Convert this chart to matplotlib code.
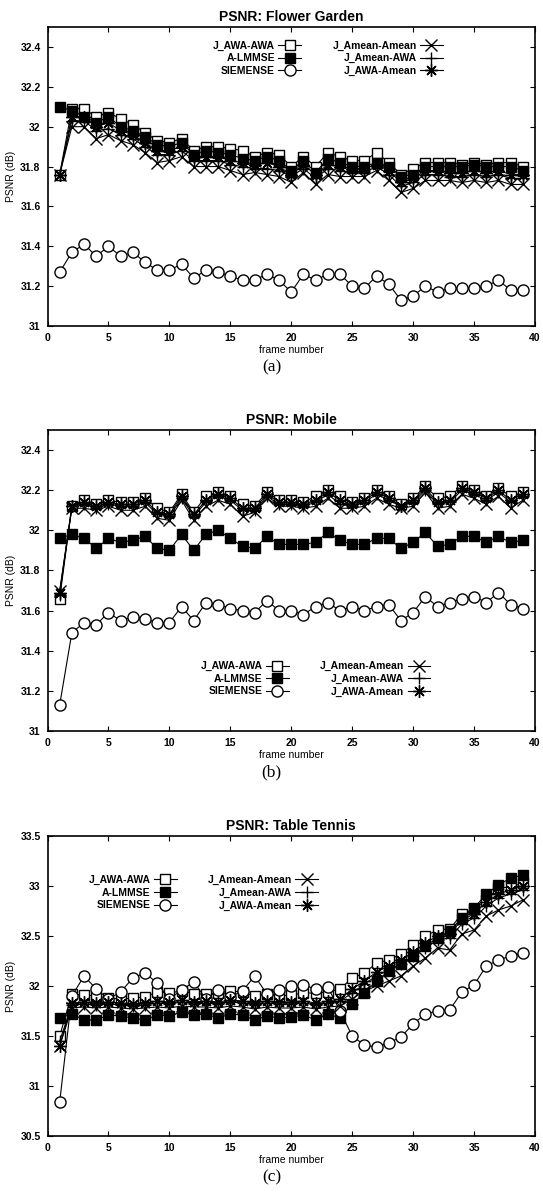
from matplotlib import pyplot as plt
import numpy as np

plt.rcParams['font.family'] = ['Liberation Sans', 'DejaVu Sans']
plt.rcParams['font.weight'] = 'bold'

frames = list(range(1, 40))

names = ['J_AWA-AWA', 'A-LMMSE', 'SIEMENSE', 'J_Amean-Amean', 'J_Amean-AWA', 'J_AWA-Amean']

# (a) Flower Garden
fg_awa_awa = [31.76, 32.09, 32.09, 32.05, 32.07, 32.04, 32.01, 31.97, 31.93, 31.92,
              31.94, 31.88, 31.90, 31.90, 31.89, 31.88, 31.85, 31.87, 31.86, 31.80,
              31.85, 31.80, 31.87, 31.85, 31.83, 31.83, 31.87, 31.82, 31.76, 31.79,
              31.82, 31.82, 31.82, 31.81, 31.82, 31.81, 31.82, 31.82, 31.80]
fg_lmmse = [32.10, 32.08, 32.05, 32.02, 32.05, 32.00, 31.98, 31.95, 31.91, 31.90,
            31.92, 31.86, 31.88, 31.87, 31.86, 31.84, 31.83, 31.85, 31.83, 31.78,
            31.83, 31.77, 31.84, 31.82, 31.80, 31.80, 31.82, 31.80, 31.75, 31.76,
            31.80, 31.80, 31.80, 31.80, 31.81, 31.80, 31.80, 31.80, 31.78]
fg_siemense = [31.27, 31.37, 31.41, 31.35, 31.40, 31.35, 31.37, 31.32, 31.28, 31.28,
               31.31, 31.24, 31.28, 31.27, 31.25, 31.23, 31.23, 31.26, 31.23, 31.17,
               31.26, 31.23, 31.26, 31.26, 31.20, 31.19, 31.25, 31.21, 31.13, 31.15,
               31.20, 31.17, 31.19, 31.19, 31.19, 31.20, 31.23, 31.18, 31.18]
fg_amean_amean = [31.76, 32.00, 32.00, 31.94, 31.96, 31.93, 31.91, 31.87, 31.82, 31.83,
                  31.85, 31.80, 31.80, 31.80, 31.78, 31.76, 31.77, 31.76, 31.75, 31.72,
                  31.77, 31.71, 31.76, 31.75, 31.75, 31.75, 31.78, 31.73, 31.67, 31.69,
                  31.73, 31.73, 31.73, 31.72, 31.73, 31.72, 31.73, 31.71, 31.71]
fg_amean_awa = [31.76, 32.03, 32.03, 31.98, 31.99, 31.96, 31.94, 31.90, 31.86, 31.86,
                31.88, 31.83, 31.83, 31.83, 31.81, 31.80, 31.79, 31.79, 31.78, 31.75,
                31.79, 31.74, 31.79, 31.78, 31.77, 31.77, 31.80, 31.76, 31.70, 31.72,
                31.76, 31.76, 31.75, 31.75, 31.76, 31.75, 31.76, 31.74, 31.74]
fg_awa_amean = [31.76, 32.05, 32.05, 32.00, 32.02, 31.98, 31.96, 31.92, 31.88, 31.88,
                31.90, 31.85, 31.85, 31.85, 31.83, 31.82, 31.81, 31.82, 31.80, 31.76,
                31.81, 31.76, 31.81, 31.80, 31.79, 31.79, 31.81, 31.78, 31.72, 31.74,
                31.78, 31.78, 31.77, 31.77, 31.78, 31.77, 31.78, 31.76, 31.76]

# (b) Mobile
mo_awa_awa = [31.66, 32.12, 32.15, 32.13, 32.15, 32.14, 32.14, 32.16, 32.11, 32.09,
              32.18, 32.09, 32.17, 32.19, 32.17, 32.13, 32.12, 32.19, 32.15, 32.15,
              32.14, 32.17, 32.20, 32.17, 32.14, 32.16, 32.20, 32.17, 32.13, 32.16,
              32.22, 32.16, 32.17, 32.22, 32.20, 32.17, 32.21, 32.17, 32.19]
mo_lmmse = [31.96, 31.98, 31.96, 31.91, 31.96, 31.94, 31.95, 31.97, 31.91, 31.90,
            31.98, 31.90, 31.98, 32.00, 31.96, 31.92, 31.91, 31.97, 31.93, 31.93,
            31.93, 31.94, 31.99, 31.95, 31.93, 31.93, 31.96, 31.96, 31.91, 31.94,
            31.99, 31.92, 31.93, 31.97, 31.97, 31.94, 31.97, 31.94, 31.95]
mo_siemense = [31.13, 31.49, 31.54, 31.53, 31.59, 31.55, 31.57, 31.56, 31.54, 31.54,
               31.62, 31.55, 31.64, 31.63, 31.61, 31.60, 31.59, 31.65, 31.60, 31.60,
               31.58, 31.62, 31.64, 31.60, 31.62, 31.60, 31.62, 31.63, 31.55, 31.59,
               31.67, 31.62, 31.64, 31.66, 31.67, 31.64, 31.69, 31.63, 31.61]
mo_amean_amean = [31.70, 32.11, 32.11, 32.10, 32.12, 32.10, 32.10, 32.12, 32.06, 32.05,
                  32.15, 32.05, 32.12, 32.15, 32.13, 32.07, 32.09, 32.16, 32.12, 32.12,
                  32.11, 32.12, 32.16, 32.11, 32.11, 32.12, 32.16, 32.13, 32.11, 32.12,
                  32.19, 32.11, 32.12, 32.18, 32.16, 32.13, 32.17, 32.11, 32.15]
mo_amean_awa = [31.68, 32.12, 32.13, 32.11, 32.13, 32.12, 32.12, 32.14, 32.08, 32.07,
                32.16, 32.07, 32.14, 32.17, 32.15, 32.10, 32.10, 32.17, 32.13, 32.13,
                32.12, 32.14, 32.18, 32.13, 32.12, 32.14, 32.18, 32.15, 32.12, 32.14,
                32.20, 32.13, 32.14, 32.20, 32.18, 32.15, 32.19, 32.14, 32.17]
mo_awa_amean = [31.69, 32.12, 32.14, 32.12, 32.14, 32.13, 32.13, 32.15, 32.09, 32.08,
                32.17, 32.08, 32.15, 32.18, 32.16, 32.11, 32.11, 32.18, 32.14, 32.14,
                32.13, 32.15, 32.19, 32.15, 32.13, 32.15, 32.19, 32.16, 32.12, 32.15,
                32.21, 32.14, 32.15, 32.21, 32.19, 32.16, 32.20, 32.15, 32.18]

# (c) Table Tennis
tt_awa_awa = [31.50, 31.92, 31.91, 31.90, 31.88, 31.87, 31.88, 31.89, 31.94, 31.93,
              31.95, 31.92, 31.92, 31.93, 31.95, 31.94, 31.90, 31.92, 31.90, 31.91,
              31.93, 31.93, 31.94, 31.97, 32.08, 32.13, 32.23, 32.26, 32.32, 32.41,
              32.50, 32.56, 32.57, 32.72, 32.77, 32.86, 32.98, 32.99, 33.03]
tt_lmmse = [31.68, 31.72, 31.66, 31.66, 31.71, 31.70, 31.68, 31.66, 31.71, 31.70,
            31.74, 31.71, 31.72, 31.68, 31.72, 31.71, 31.66, 31.70, 31.68, 31.69,
            31.71, 31.66, 31.72, 31.68, 31.82, 31.93, 32.05, 32.15, 32.22, 32.30,
            32.40, 32.48, 32.55, 32.68, 32.78, 32.92, 33.01, 33.08, 33.11]
tt_siemense = [30.84, 31.90, 32.10, 31.97, 31.87, 31.94, 32.08, 32.13, 32.03, 31.87,
               31.96, 32.04, 31.87, 31.96, 31.89, 31.95, 32.10, 31.92, 31.96, 32.00,
               32.01, 31.97, 31.99, 31.75, 31.50, 31.41, 31.39, 31.43, 31.49, 31.62,
               31.72, 31.75, 31.76, 31.94, 32.01, 32.20, 32.26, 32.30, 32.33]
tt_amean_amean = [31.40, 31.78, 31.79, 31.78, 31.79, 31.78, 31.77, 31.78, 31.79, 31.78,
                  31.80, 31.79, 31.79, 31.78, 31.80, 31.79, 31.77, 31.79, 31.78, 31.78,
                  31.79, 31.77, 31.79, 31.80, 31.87, 31.95, 32.00, 32.05, 32.10, 32.20,
                  32.28, 32.38, 32.36, 32.52, 32.56, 32.70, 32.76, 32.80, 32.86]
tt_amean_awa = [31.45, 31.81, 31.82, 31.81, 31.82, 31.81, 31.80, 31.81, 31.83, 31.82,
                31.84, 31.82, 31.83, 31.82, 31.84, 31.83, 31.81, 31.83, 31.82, 31.82,
                31.83, 31.81, 31.83, 31.85, 31.93, 32.02, 32.10, 32.16, 32.22, 32.30,
                32.38, 32.46, 32.48, 32.62, 32.68, 32.80, 32.88, 32.92, 32.96]
tt_awa_amean = [31.40, 31.83, 31.84, 31.83, 31.84, 31.83, 31.82, 31.83, 31.85, 31.84,
                31.86, 31.84, 31.85, 31.84, 31.86, 31.85, 31.83, 31.85, 31.84, 31.84,
                31.85, 31.83, 31.85, 31.87, 31.97, 32.05, 32.14, 32.20, 32.26, 32.34,
                32.43, 32.50, 32.52, 32.66, 32.72, 32.84, 32.92, 32.96, 33.00]

# marker, facecolor, size
styles = [('s', 'white', 7), ('s', 'black', 7), ('o', 'white', 8),
          ('x', 'black', 8), ('+', 'black', 9), ((8, 2, 0), 'black', 9)]

panels = [
    ('PSNR: Flower Garden', [fg_awa_awa, fg_lmmse, fg_siemense, fg_amean_amean, fg_amean_awa, fg_awa_amean],
     (31, 32.5), np.arange(31, 32.41, 0.2), ['31', '31.2', '31.4', '31.6', '31.8', '32', '32.2', '32.4'],
     '(a)', (0.575, 0.955)),
    ('PSNR: Mobile', [mo_awa_awa, mo_lmmse, mo_siemense, mo_amean_amean, mo_amean_awa, mo_awa_amean],
     (31, 32.5), np.arange(31, 32.41, 0.2), ['31', '31.2', '31.4', '31.6', '31.8', '32', '32.2', '32.4'],
     '(b)', (0.55, 0.232)),
    ('PSNR: Table Tennis', [tt_awa_awa, tt_lmmse, tt_siemense, tt_amean_amean, tt_amean_awa, tt_awa_amean],
     (30.5, 33.5), np.arange(30.5, 33.51, 0.5), ['30.5', '31', '31.5', '32', '32.5', '33', '33.5'],
     '(c)', (0.32, 0.87)),
]

W, H = 543, 1198
fig = plt.figure(figsize=(W / 100, H / 100), dpi=100)

# axes boxes in pixels: left, right, top, bottom
boxes = [(47.5, 535, 27, 326), (47.5, 535, 430, 731), (47.5, 535, 836, 1136)]
cap_y = [367, 772, 1177]

for i, (title, series, ylim, yt, ytl, cap, legpos) in enumerate(panels):
    l, r, t, b = boxes[i]
    ax = fig.add_axes([l / W, 1 - b / H, (r - l) / W, (b - t) / H])
    for s, name, (mk, fc, ms) in zip(series, names, styles):
        ax.plot(frames, s, '-', color='black', lw=0.8, marker=mk, ms=ms,
                mfc=fc, mec='black', mew=1.0, label=name)
    ax.set_xlim(0, 40)
    ax.set_ylim(*ylim)
    ax.set_xticks(range(0, 41, 5))
    ax.set_yticks(yt)
    ax.set_yticklabels(ytl)
    ax.tick_params(direction='in', top=True, right=True, length=3.5, width=0.8,
                   labelsize=7.5, pad=5)
    for sp in ax.spines.values():
        sp.set_linewidth(1.2)
    ax.set_title(title, fontsize=10, fontweight='bold', pad=4)
    ax.set_ylabel('PSNR (dB)', fontsize=7.5, labelpad=3)
    ax.set_xlabel('frame number', fontsize=7.5, labelpad=1.5)
    ax.legend(loc='upper center', bbox_to_anchor=legpos, ncol=2, frameon=False,
              markerfirst=False, fontsize=7.5, handlelength=2.2, handletextpad=0.3,
              columnspacing=3.0, labelspacing=0.25, borderpad=0, borderaxespad=0)
    fig.text(0.5, 1 - cap_y[i] / H, cap, ha='center', va='center',
             family='Liberation Serif', fontweight='normal', fontsize=12.5)

fig.savefig('out.png', dpi=100)
